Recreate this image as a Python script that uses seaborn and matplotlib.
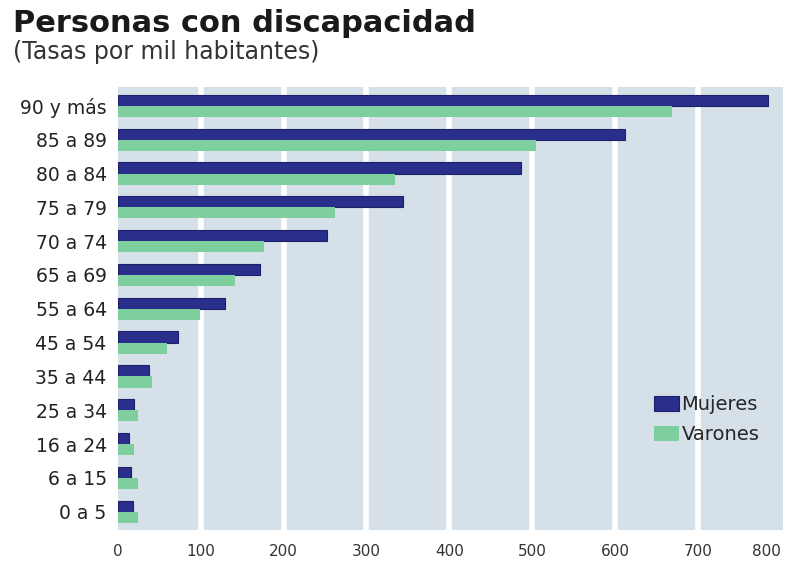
import pandas as pd
import numpy as np
import matplotlib
matplotlib.use("Agg")
import matplotlib.pyplot as plt
import seaborn as sns

grupos = ['90 y más', '85 a 89', '80 a 84', '75 a 79', '70 a 74', '65 a 69', '55 a 64',
          '45 a 54', '35 a 44', '25 a 34', '16 a 24', '6 a 15', '0 a 5']
mujeres = [784, 612, 486, 344, 252, 172, 129, 73, 38, 20, 13, 16, 18]
varones = [669, 505, 335, 262, 177, 142, 99, 60, 41, 25, 19, 25, 25]
xticks = [0, 100, 200, 300, 400, 500, 600, 700, 800]

df = pd.concat([
    pd.DataFrame({'grupo': grupos, 'tasa': mujeres, 'sexo': 'Mujeres'}),
    pd.DataFrame({'grupo': grupos, 'tasa': varones, 'sexo': 'Varones'}),
])

sns.set_style('white')
plt.rcParams['font.family'] = ['DejaVu Sans']

fig = plt.figure(figsize=(7.85, 5.63), dpi=100)
ax = fig.add_axes([0.150, 0.058, 0.848, 0.787])
ax.set_facecolor('#d5e0e8')

sns.barplot(data=df, x='tasa', y='grupo', hue='sexo', orient='h',
            palette={'Mujeres': '#2a2f8c', 'Varones': '#7ecf9e'}, saturation=1,
            width=0.66, gap=0.0, ax=ax, legend=True)
for p in ax.patches:
    fc = p.get_facecolor()
    if fc[1] < 0.3:
        p.set_edgecolor('#1c2068')
        p.set_linewidth(0.8)
    else:
        p.set_linewidth(0)
    p.set_zorder(2)

ax.set_xlim(0, 803)
ax.set_ylim(12.55, -0.55)
ax.set_xticks(xticks)
for xv in xticks[1:-1]:
    ax.axvline(xv, color='white', lw=4, zorder=0.5)

ax.set_xlabel('')
ax.set_ylabel('')
ax.tick_params(axis='y', length=0, pad=8, labelsize=13.5, labelcolor='#222222')
ax.tick_params(axis='x', length=0, pad=10, labelsize=11, labelcolor='#333333')
ax.get_xticklabels()[-1].set_horizontalalignment('right')
for s in ax.spines.values():
    s.set_visible(False)

leg = ax.legend(loc='lower right', bbox_to_anchor=(0.99, 0.155), frameon=False,
                fontsize=14, handlelength=1.3, handleheight=0.8, handletextpad=0.1,
                labelspacing=0.55)

fig.text(0.016, 0.958, 'Personas con discapacidad', fontsize=22, fontweight='bold',
         color='#1a1a1a', va='center')
fig.text(0.016, 0.907, '(Tasas por mil habitantes)', fontsize=17, color='#333333',
         va='center')

fig.savefig('out.png', dpi=100)
